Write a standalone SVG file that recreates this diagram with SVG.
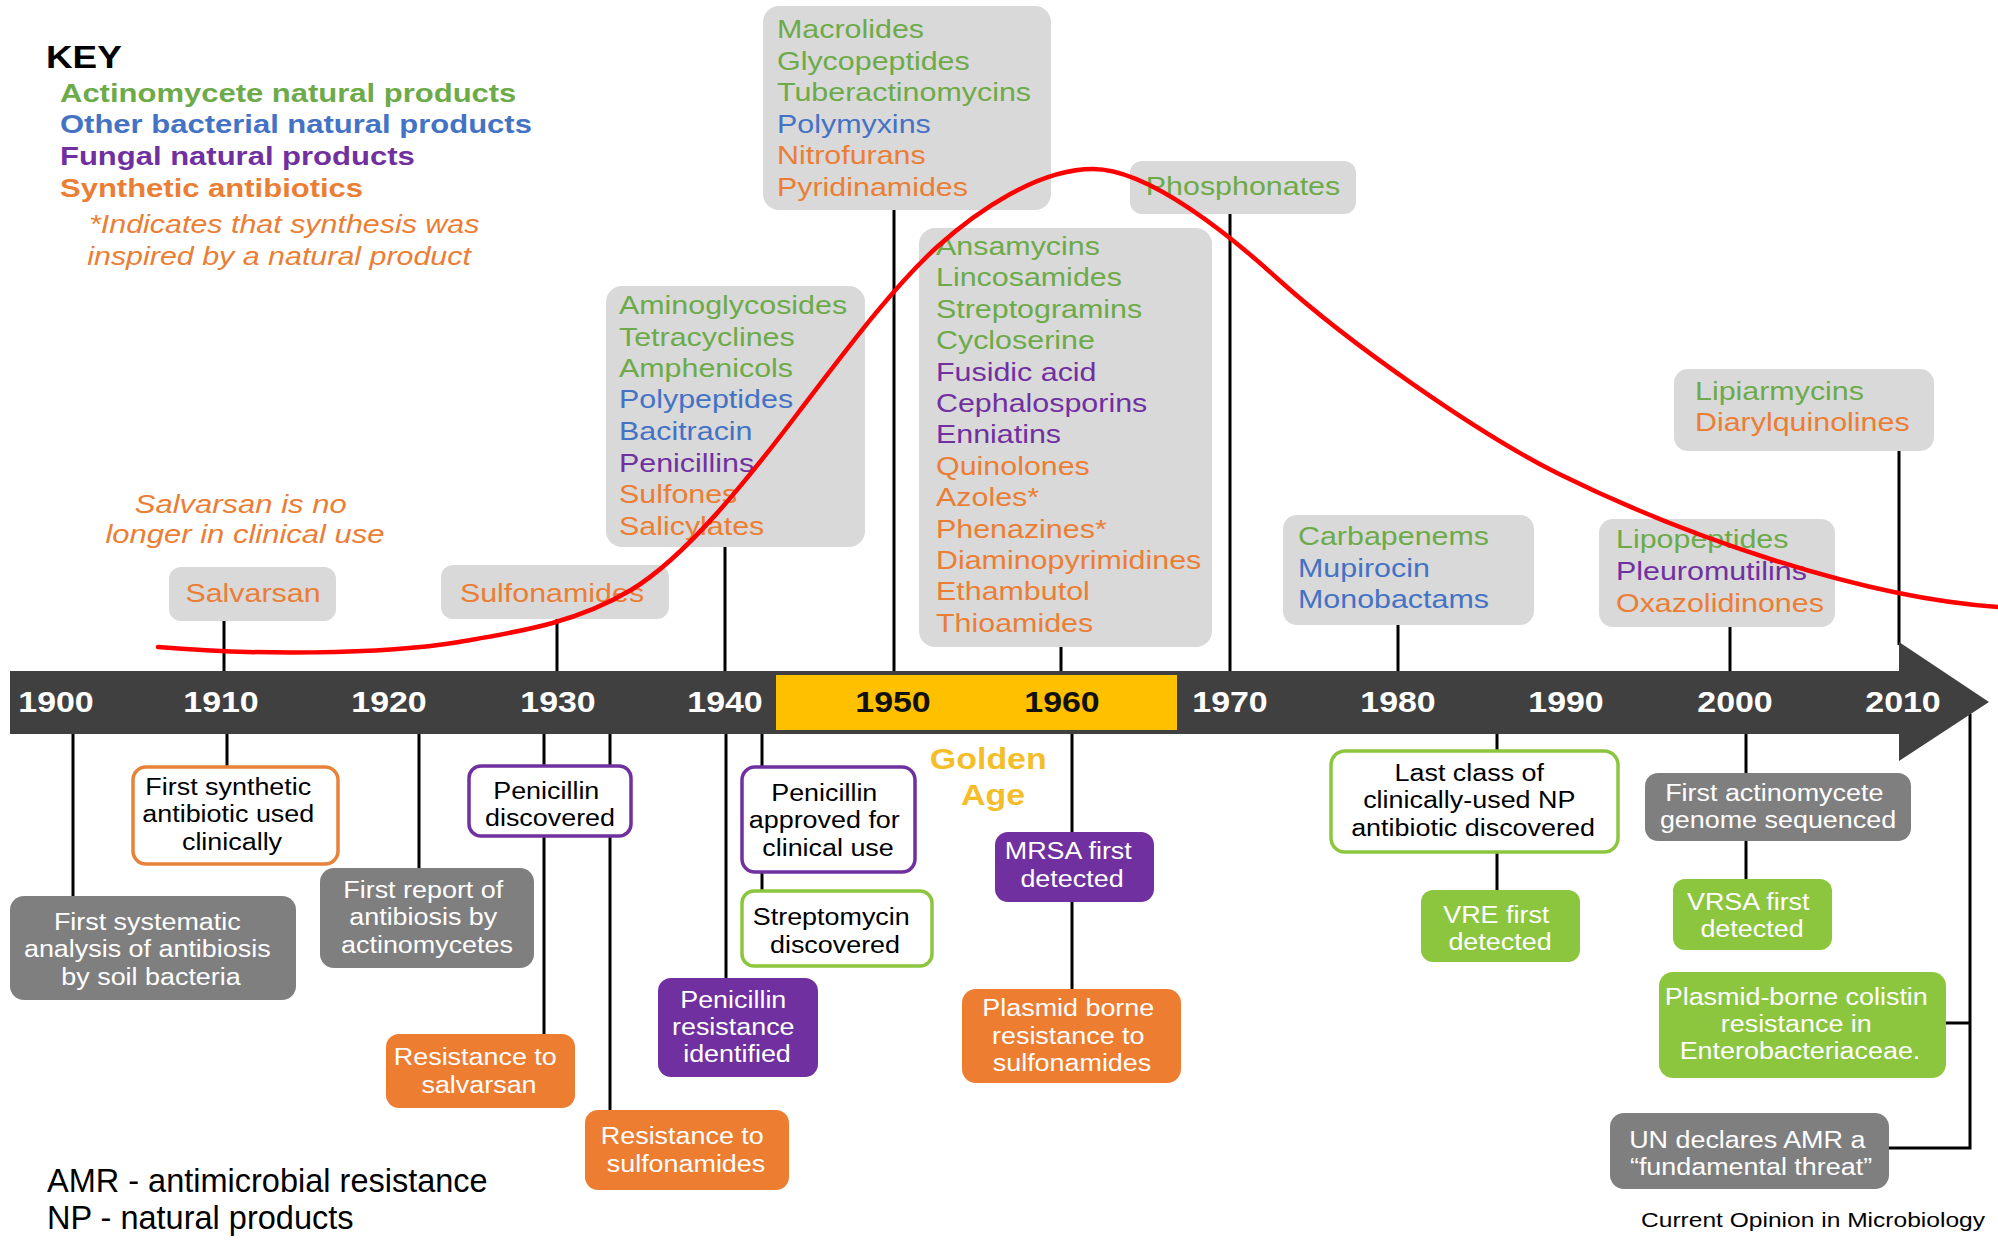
<svg xmlns="http://www.w3.org/2000/svg" width="1998" height="1241" viewBox="0 0 1998 1241">
<defs>
<style>
text { font-family: "Liberation Sans", Arial, Helvetica, sans-serif; }
.lst { font-size: 26px; }
.bx { font-size: 23px; text-anchor: middle; }
.yr { font-size: 29px; font-weight: bold; text-anchor: middle; fill: #ffffff; }
.yk { fill: #111111; }
.g { fill: #6DAA4A; } .b { fill: #4472C4; } .p { fill: #7030A0; } .o { fill: #EB7E35; }
.w { fill: #ffffff; } .k { fill: #000000; }
.top { fill: #D9D9D9; }
.gry { fill: #7F7F7F; }
.orf { fill: #ED7D31; }
.puf { fill: #7030A0; }
.grf { fill: #8CC63F; }
.ows { fill: #ffffff; stroke: #E8823A; stroke-width: 3.5; }
.pws { fill: #ffffff; stroke: #7030A0; stroke-width: 3.5; }
.gws { fill: #ffffff; stroke: #8CC63F; stroke-width: 3.5; }
.c { stroke: #000000; stroke-width: 3; fill: none; }
</style>
</defs>
<rect width="1998" height="1241" fill="#ffffff"/>

<!-- connectors -->
<g id="connectors">
<line class="c" x1="224" y1="620" x2="224" y2="672"/>
<line class="c" x1="557" y1="618" x2="557" y2="672"/>
<line class="c" x1="725" y1="546" x2="725" y2="672"/>
<line class="c" x1="894" y1="209" x2="894" y2="672"/>
<line class="c" x1="1061" y1="646" x2="1061" y2="672"/>
<line class="c" x1="1230" y1="213" x2="1230" y2="672"/>
<line class="c" x1="1398" y1="624" x2="1398" y2="672"/>
<line class="c" x1="1730" y1="626" x2="1730" y2="672"/>
<line class="c" x1="1899" y1="450" x2="1899" y2="645"/>
<line class="c" x1="73" y1="733" x2="73" y2="897"/>
<line class="c" x1="227" y1="733" x2="227" y2="767"/>
<line class="c" x1="419" y1="733" x2="419" y2="869"/>
<line class="c" x1="544" y1="733" x2="544" y2="1035"/>
<line class="c" x1="610" y1="733" x2="610" y2="1111"/>
<line class="c" x1="726" y1="733" x2="726" y2="979"/>
<line class="c" x1="762" y1="733" x2="762" y2="892"/>
<line class="c" x1="1072" y1="733" x2="1072" y2="990"/>
<line class="c" x1="1497" y1="733" x2="1497" y2="890"/>
<line class="c" x1="1746" y1="733" x2="1746" y2="879"/>
<polyline class="c" points="1946,1023 1970,1023"/>
<polyline class="c" points="1889,1148 1970,1148 1970,714"/>
</g>

<!-- timeline -->
<g id="timeline">
<polygon points="10,671 1899,671 1899,642 1989,702 1899,761 1899,734 10,734" fill="#404040"/>
<rect x="776" y="675" width="401" height="55" fill="#FFC000"/>
<g transform="translate(56,0) scale(1.17,1)"><text class="yr" x="0" y="712">1900</text></g>
<g transform="translate(221,0) scale(1.17,1)"><text class="yr" x="0" y="712">1910</text></g>
<g transform="translate(389,0) scale(1.17,1)"><text class="yr" x="0" y="712">1920</text></g>
<g transform="translate(558,0) scale(1.17,1)"><text class="yr" x="0" y="712">1930</text></g>
<g transform="translate(725,0) scale(1.17,1)"><text class="yr" x="0" y="712">1940</text></g>
<g transform="translate(893,0) scale(1.17,1)"><text class="yr yk" x="0" y="712">1950</text></g>
<g transform="translate(1062,0) scale(1.17,1)"><text class="yr yk" x="0" y="712">1960</text></g>
<g transform="translate(1230,0) scale(1.17,1)"><text class="yr" x="0" y="712">1970</text></g>
<g transform="translate(1398,0) scale(1.17,1)"><text class="yr" x="0" y="712">1980</text></g>
<g transform="translate(1566,0) scale(1.17,1)"><text class="yr" x="0" y="712">1990</text></g>
<g transform="translate(1735,0) scale(1.17,1)"><text class="yr" x="0" y="712">2000</text></g>
<g transform="translate(1903,0) scale(1.17,1)"><text class="yr" x="0" y="712">2010</text></g>
</g>

<!-- top class boxes -->
<g id="node-salvarsan">
<rect class="top" x="169" y="567" width="167" height="54" rx="12"/>
<g transform="translate(253,0) scale(1.17,1)"><text class="lst o" x="0" y="602" text-anchor="middle">Salvarsan</text></g>
</g>
<g id="node-sulfonamides">
<rect class="top" x="441" y="565" width="228" height="54" rx="12"/>
<g transform="translate(552,0) scale(1.17,1)"><text class="lst o" x="0" y="602" text-anchor="middle">Sulfonamides</text></g>
</g>
<g id="node-1940s">
<rect class="top" x="606" y="286" width="259" height="261" rx="16"/>
<g transform="translate(619,0) scale(1.17,1)"><text class="lst">
<tspan class="g" x="0" y="314">Aminoglycosides</tspan>
<tspan class="g" x="0" y="346">Tetracyclines</tspan>
<tspan class="g" x="0" y="377">Amphenicols</tspan>
<tspan class="b" x="0" y="408">Polypeptides</tspan>
<tspan class="b" x="0" y="440">Bacitracin</tspan>
<tspan class="p" x="0" y="472">Penicillins</tspan>
<tspan class="o" x="0" y="503">Sulfones</tspan>
<tspan class="o" x="0" y="535">Salicylates</tspan>
</text></g>
</g>
<g id="node-1950s">
<rect class="top" x="763" y="6" width="288" height="204" rx="16"/>
<g transform="translate(777,0) scale(1.17,1)"><text class="lst">
<tspan class="g" x="0" y="38">Macrolides</tspan>
<tspan class="g" x="0" y="70">Glycopeptides</tspan>
<tspan class="g" x="0" y="101">Tuberactinomycins</tspan>
<tspan class="b" x="0" y="133">Polymyxins</tspan>
<tspan class="o" x="0" y="164">Nitrofurans</tspan>
<tspan class="o" x="0" y="196">Pyridinamides</tspan>
</text></g>
</g>
<g id="node-1960s">
<rect class="top" x="919" y="228" width="293" height="419" rx="16"/>
<g transform="translate(936,0) scale(1.17,1)"><text class="lst">
<tspan class="g" x="0" y="255">Ansamycins</tspan>
<tspan class="g" x="0" y="286.4">Lincosamides</tspan>
<tspan class="g" x="0" y="317.8">Streptogramins</tspan>
<tspan class="g" x="0" y="349.2">Cycloserine</tspan>
<tspan class="p" x="0" y="380.6">Fusidic acid</tspan>
<tspan class="p" x="0" y="412">Cephalosporins</tspan>
<tspan class="p" x="0" y="443.4">Enniatins</tspan>
<tspan class="o" x="0" y="474.8">Quinolones</tspan>
<tspan class="o" x="0" y="506.2">Azoles*</tspan>
<tspan class="o" x="0" y="537.6">Phenazines*</tspan>
<tspan class="o" x="0" y="569">Diaminopyrimidines</tspan>
<tspan class="o" x="0" y="600.4">Ethambutol</tspan>
<tspan class="o" x="0" y="631.8">Thioamides</tspan>
</text></g>
</g>
<g id="node-phosphonates">
<rect class="top" x="1130" y="161" width="226" height="53" rx="12"/>
<g transform="translate(1243,0) scale(1.17,1)"><text class="lst g" x="0" y="195" text-anchor="middle">Phosphonates</text></g>
</g>
<g id="node-1980s">
<rect class="top" x="1283" y="515" width="251" height="110" rx="14"/>
<g transform="translate(1298,0) scale(1.17,1)"><text class="lst">
<tspan class="g" x="0" y="545">Carbapenems</tspan>
<tspan class="b" x="0" y="577">Mupirocin</tspan>
<tspan class="b" x="0" y="608">Monobactams</tspan>
</text></g>
</g>
<g id="node-2000s">
<rect class="top" x="1599" y="519" width="236" height="108" rx="14"/>
<g transform="translate(1616,0) scale(1.17,1)"><text class="lst">
<tspan class="g" x="0" y="548">Lipopeptides</tspan>
<tspan class="p" x="0" y="580">Pleuromutilins</tspan>
<tspan class="o" x="0" y="612">Oxazolidinones</tspan>
</text></g>
</g>
<g id="node-2010s">
<rect class="top" x="1674" y="369" width="260" height="82" rx="14"/>
<g transform="translate(1695,0) scale(1.17,1)"><text class="lst">
<tspan class="g" x="0" y="400">Lipiarmycins</tspan>
<tspan class="o" x="0" y="431">Diarylquinolines</tspan>
</text></g>
</g>

<!-- event boxes below -->
<g id="node-systematic">
<rect class="gry" x="10" y="896" width="286" height="104" rx="14"/>
<g transform="translate(151,0) scale(1.17,1)"><text class="bx w">
<tspan x="0" y="930">First systematic</tspan>
<tspan x="0" y="957">analysis of antibiosis</tspan>
<tspan x="0" y="985">by soil bacteria</tspan>
</text></g>
</g>
<g id="node-first-synthetic">
<rect class="ows" x="133" y="767" width="205" height="97" rx="13"/>
<g transform="translate(232,0) scale(1.17,1)"><text class="bx k">
<tspan x="0" y="795">First synthetic</tspan>
<tspan x="0" y="822">antibiotic used</tspan>
<tspan x="0" y="850">clinically</tspan>
</text></g>
</g>
<g id="node-first-report">
<rect class="gry" x="320" y="868" width="214" height="100" rx="14"/>
<g transform="translate(427,0) scale(1.17,1)"><text class="bx w">
<tspan x="0" y="898">First report of</tspan>
<tspan x="0" y="925">antibiosis by</tspan>
<tspan x="0" y="953">actinomycetes</tspan>
</text></g>
</g>
<g id="node-penicillin-discovered">
<rect class="pws" x="469" y="766" width="162" height="70" rx="12"/>
<g transform="translate(550,0) scale(1.17,1)"><text class="bx k">
<tspan x="0" y="799">Penicillin</tspan>
<tspan x="0" y="826">discovered</tspan>
</text></g>
</g>
<g id="node-resistance-salvarsan">
<rect class="orf" x="386" y="1034" width="189" height="74" rx="13"/>
<g transform="translate(479,0) scale(1.17,1)"><text class="bx w">
<tspan x="0" y="1065">Resistance to</tspan>
<tspan x="0" y="1093">salvarsan</tspan>
</text></g>
</g>
<g id="node-resistance-sulfonamides">
<rect class="orf" x="585" y="1110" width="204" height="80" rx="13"/>
<g transform="translate(686,0) scale(1.17,1)"><text class="bx w">
<tspan x="0" y="1144">Resistance to</tspan>
<tspan x="0" y="1172">sulfonamides</tspan>
</text></g>
</g>
<g id="node-penicillin-resistance">
<rect class="puf" x="658" y="978" width="160" height="99" rx="13"/>
<g transform="translate(737,0) scale(1.17,1)"><text class="bx w">
<tspan x="0" y="1008">Penicillin</tspan>
<tspan x="0" y="1035">resistance</tspan>
<tspan x="0" y="1062">identified</tspan>
</text></g>
</g>
<g id="node-penicillin-approved">
<rect class="pws" x="742" y="767" width="173" height="105" rx="13"/>
<g transform="translate(828,0) scale(1.17,1)"><text class="bx k">
<tspan x="0" y="801">Penicillin</tspan>
<tspan x="0" y="828">approved for</tspan>
<tspan x="0" y="856">clinical use</tspan>
</text></g>
</g>
<g id="node-streptomycin">
<rect class="gws" x="742" y="891" width="190" height="75" rx="12"/>
<g transform="translate(835,0) scale(1.17,1)"><text class="bx k">
<tspan x="0" y="925">Streptomycin</tspan>
<tspan x="0" y="953">discovered</tspan>
</text></g>
</g>
<g id="golden-age">
<g transform="translate(993,0) scale(1.17,1)"><text x="0" y="769" text-anchor="middle" font-size="29" font-weight="bold" fill="#F4BE2A">
<tspan x="0" y="769">Golden</tspan>
<tspan x="0" y="805">Age</tspan>
</text></g>
</g>
<g id="node-mrsa">
<rect class="puf" x="995" y="832" width="159" height="70" rx="13"/>
<g transform="translate(1072,0) scale(1.17,1)"><text class="bx w">
<tspan x="0" y="859">MRSA first</tspan>
<tspan x="0" y="887">detected</tspan>
</text></g>
</g>
<g id="node-plasmid-sulfonamides">
<rect class="orf" x="962" y="989" width="219" height="94" rx="14"/>
<g transform="translate(1072,0) scale(1.17,1)"><text class="bx w">
<tspan x="0" y="1016">Plasmid borne</tspan>
<tspan x="0" y="1044">resistance to</tspan>
<tspan x="0" y="1071">sulfonamides</tspan>
</text></g>
</g>
<g id="node-last-class">
<rect class="gws" x="1331" y="751" width="287" height="101" rx="14"/>
<g transform="translate(1473,0) scale(1.17,1)"><text class="bx k">
<tspan x="0" y="781">Last class of</tspan>
<tspan x="0" y="808">clinically-used NP</tspan>
<tspan x="0" y="836">antibiotic discovered</tspan>
</text></g>
</g>
<g id="node-vre">
<rect class="grf" x="1421" y="890" width="159" height="72" rx="12"/>
<g transform="translate(1500,0) scale(1.17,1)"><text class="bx w">
<tspan x="0" y="923">VRE first</tspan>
<tspan x="0" y="950">detected</tspan>
</text></g>
</g>
<g id="node-genome">
<rect class="gry" x="1645" y="773" width="266" height="68" rx="13"/>
<g transform="translate(1778,0) scale(1.17,1)"><text class="bx w">
<tspan x="0" y="801">First actinomycete</tspan>
<tspan x="0" y="828">genome sequenced</tspan>
</text></g>
</g>
<g id="node-vrsa">
<rect class="grf" x="1673" y="879" width="159" height="71" rx="12"/>
<g transform="translate(1752,0) scale(1.17,1)"><text class="bx w">
<tspan x="0" y="910">VRSA first</tspan>
<tspan x="0" y="937">detected</tspan>
</text></g>
</g>
<g id="node-colistin">
<rect class="grf" x="1659" y="972" width="287" height="106" rx="14"/>
<g transform="translate(1800,0) scale(1.17,1)"><text class="bx w">
<tspan x="0" y="1005">Plasmid-borne colistin</tspan>
<tspan x="0" y="1032">resistance in</tspan>
<tspan x="0" y="1059">Enterobacteriaceae.</tspan>
</text></g>
</g>
<g id="node-un">
<rect class="gry" x="1610" y="1113" width="279" height="76" rx="14"/>
<g transform="translate(1751,0) scale(1.17,1)"><text class="bx w">
<tspan x="0" y="1148">UN declares AMR a</tspan>
<tspan x="0" y="1175">“fundamental threat”</tspan>
</text></g>
</g>

<!-- discovery curve -->
<path id="discovery-curve" d="M158,647 C250,655 380,655 459,642 C516,632 574,624 631,590 C686,557 748,479 798,413 C844,353 891,289 937,247 C977,211 1038,169 1093,169 C1150,169 1234,239 1279,280 C1349,343 1477,433 1557,473 C1680,534 1860,598 1998,607" fill="none" stroke="#FF0000" stroke-width="4.5" stroke-linecap="round"/>

<!-- key -->
<g id="key">
<g transform="translate(46,0) scale(1.17,1)"><text x="0" y="68" font-size="31.5" font-weight="bold" fill="#000000">KEY</text></g>
<g transform="translate(60,0) scale(1.17,1)"><text font-size="26.5" font-weight="bold">
<tspan class="g" x="0" y="102">Actinomycete natural products</tspan>
<tspan class="b" x="0" y="133">Other bacterial natural products</tspan>
<tspan class="p" x="0" y="165">Fungal natural products</tspan>
<tspan class="o" x="0" y="197">Synthetic antibiotics</tspan>
</text></g>
<g transform="translate(89,0) scale(1.17,1)"><text class="o" font-size="26" font-style="italic">
<tspan x="0" y="233">*Indicates that synthesis was</tspan>
<tspan x="-1.5" y="265">inspired by a natural product</tspan>
</text></g>
</g>

<g id="salvarsan-note">
<g transform="translate(245,0) scale(1.17,1)"><text class="o" font-size="26.5" font-style="italic" text-anchor="middle">
<tspan x="0" y="513">Salvarsan is no</tspan>
<tspan x="0" y="543">longer in clinical use</tspan>
</text></g>
</g>

<g id="abbreviations">
<text x="47" y="1192" font-size="32.5" fill="#000000">AMR - antimicrobial resistance</text>
<text x="47" y="1229" font-size="32.5" fill="#000000">NP - natural products</text>
</g>
<g transform="translate(1985,0) scale(1.17,1)"><text x="0" y="1227" font-size="21" text-anchor="end" fill="#000000">Current Opinion in Microbiology</text></g>
</svg>
